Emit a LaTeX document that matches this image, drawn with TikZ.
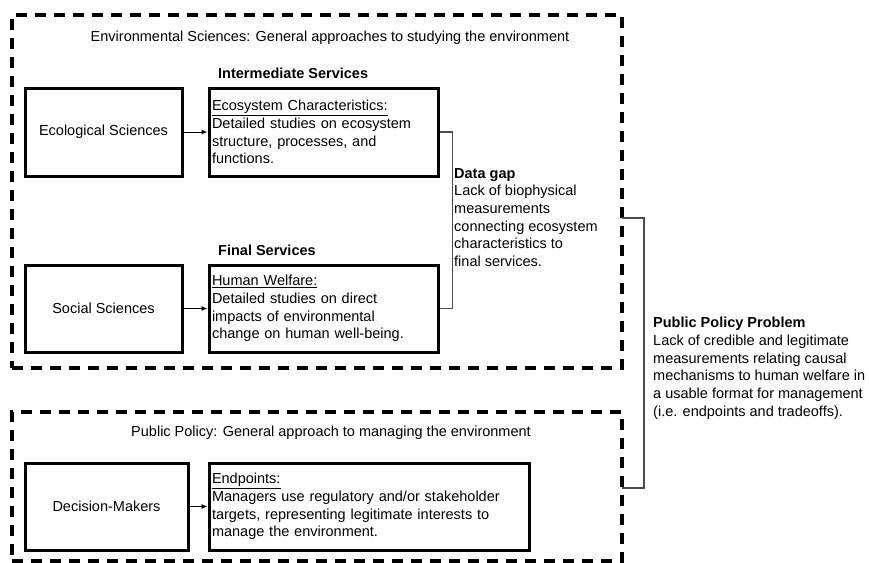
\documentclass[tikz,border=0pt]{standalone}
\usepackage{fontspec}
\setmainfont{Liberation Sans}
\usetikzlibrary{arrows.meta}
\begin{document}
\begin{tikzpicture}[x=1pt,y=-1pt,
  basefont/.style={font=\fontsize{14.5}{17.7}\selectfont},
  basefont,
  box/.style={draw, line width=3pt, inner xsep=3pt, inner ysep=0pt, align=left},
  frame/.style={draw, line width=3.2pt, dash pattern=on 11pt off 8pt, inner sep=0pt},
  bracket/.style={draw=black!70, line width=1.2pt},
  arr/.style={-{Latex[length=6pt,width=5pt]}, line width=1pt},
  hdr/.style={font=\fontsize{14.5}{17.7}\selectfont\bfseries, anchor=west, inner sep=0pt},
  note/.style={anchor=north west, align=left, inner sep=0pt}
]
\useasboundingbox (0,0) rectangle (869,562);
% dashed frames
\node[frame, minimum width=610pt, minimum height=353pt] (env) at (317,191.5) {};
\node[frame, minimum width=610pt, minimum height=149pt] (pp) at (317,486.5) {};
% titles
\node (envtitle) at (330,38) {Environmental Sciences: General approaches to studying the environment};
\node (pptitle) at (331,433) {Public Policy: General approach to managing the environment};
% headers
\node[hdr] (ints) at (218,73) {Intermediate Services};
\node[hdr] (fins) at (218,250) {Final Services};
% boxes
\node[box, align=center, minimum width=157pt, minimum height=88pt] (eco) at (103.5,132) {Ecological Sciences};
\node[box, text width=223pt, minimum height=88pt] (ecochar) at (323.5,132)
  {\underline{Ecosystem Characteristics:}\\Detailed studies on ecosystem\\structure, processes, and\\functions.};
\node[box, align=center, minimum width=157pt, minimum height=87pt] (soc) at (103.5,308.5) {Social Sciences};
\node[box, text width=223pt, minimum height=87pt] (hw) at (323.5,308.5)
  {\underline{Human Welfare:}\\Detailed studies on direct\\impacts of environmental\\change on human well-being.};
\node[box, align=center, minimum width=163pt, minimum height=87pt] (dm) at (106.5,506.5) {Decision-Makers};
\node[box, text width=314pt, minimum height=87pt] (ep) at (369,506.5)
  {\underline{Endpoints:}\\Managers use regulatory and/or stakeholder\\targets, representing legitimate interests to\\manage the environment.};
% arrows
\draw[arr] (eco) -- (ecochar);
\draw[arr] (soc) -- (hw);
\draw[arr] (dm) -- (ep);
% data gap bracket
\draw[bracket] (ecochar.east) -- ++(13,0) |- (hw.east);
\node[note] (gap) at (454,168) {\textbf{Data gap}\\Lack of biophysical\\measurements\\connecting ecosystem\\characteristics to\\final services.};
% public policy bracket
\coordinate (ppa) at (622,218);
\coordinate (ppb) at (622,488);
\draw[bracket] (ppa) -- ++(22,0) |- (ppb);
\node[note] (ppp) at (653,317) {\textbf{Public Policy Problem}\\Lack of credible and legitimate\\measurements relating causal\\mechanisms to human welfare in\\a usable format for management\\(i.e. endpoints and tradeoffs).};
\end{tikzpicture}
\end{document}
